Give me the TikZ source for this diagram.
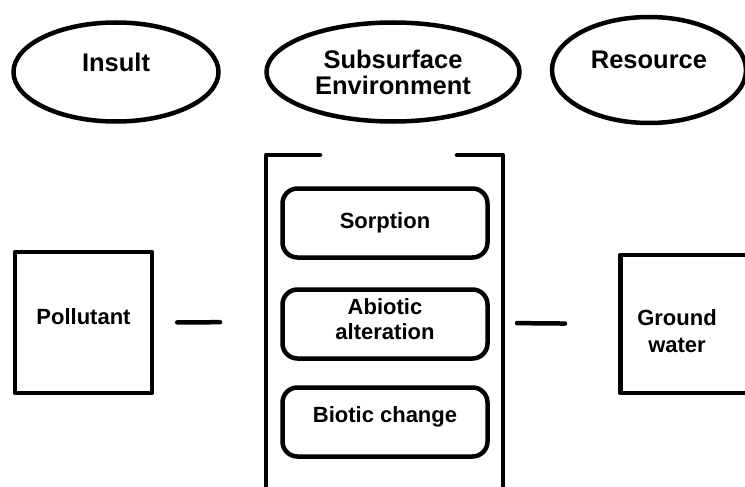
\documentclass[tikz,border=0pt]{standalone}
\usepackage{fontspec}
\setmainfont{Liberation Sans}
\usepackage{tikz}
\usetikzlibrary{shapes.geometric}

\begin{document}
\begin{tikzpicture}[line cap=round,line join=round,x=1pt,y=-1pt,line width=4.5pt,
  oval/.style={ellipse,draw,inner sep=0pt,align=center,font=\fontsize{25.5}{26}\selectfont\bfseries},
  box/.style={rectangle,draw,inner sep=0pt,align=center,font=\fontsize{22}{25}\selectfont\bfseries},
  proc/.style={box,rounded corners=15pt,minimum width=205pt,minimum height=69pt}]
\useasboundingbox (0,0) rectangle (745,487);
\clip (0,0) rectangle (745,487);
% top row
\node[oval,minimum width=205pt,minimum height=99pt,text depth=20pt] (insult) at (116,72) {Insult};
\node[oval,minimum width=253pt,minimum height=99pt] (subsurf) at (393,72) {Subsurface\\Environment};
\node[oval,minimum width=194pt,minimum height=106pt,text depth=20pt] (resource) at (649,70) {Resource};
% bracket round the processes
\coordinate (brtl) at (266,155);
\coordinate (brtr) at (503,155);
\coordinate (brl) at (266,322);
\coordinate (brr) at (503,323);
\draw (320,155) -- (brtl) -- (266,495);
\draw (457,155) -- (brtr) -- (503,495);
\node[proc] (sorp) at (385,223) {Sorption};
\node[proc,text depth=10pt] (abio) at (385,324) {Abiotic\\alteration};
\node[proc,text depth=14pt] (bio) at (385,422) {Biotic change};
% side boxes
\node[box,minimum width=137pt,minimum height=141pt,text depth=11pt] (poll) at (83.5,322.5) {Pollutant};
\node[box,minimum width=150pt,minimum height=138pt,anchor=west] (gwbox) at (618,324) {};
\node[font=\fontsize{22}{27}\selectfont\bfseries,align=center] (gw) at (677,331) {Ground\\water};
\draw[shorten <=23pt,shorten >=46pt] (poll.east) -- (brl);
\draw[shorten <=14pt,shorten >=53pt] (brr) -- (gwbox.west);
\end{tikzpicture}
\end{document}
